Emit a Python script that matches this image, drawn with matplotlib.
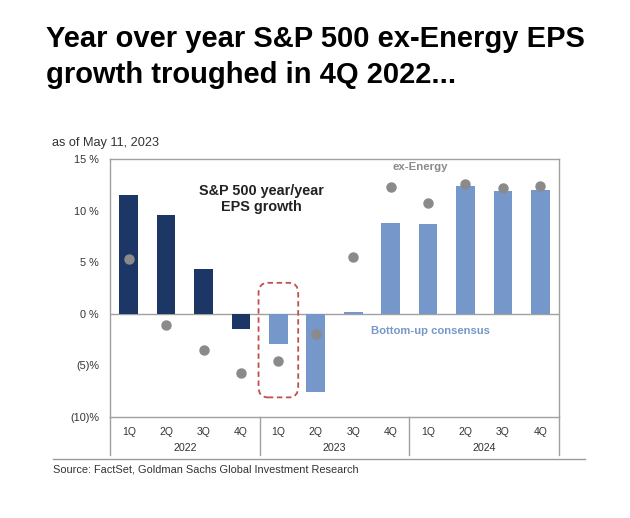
import matplotlib.pyplot as plt
from matplotlib.patches import FancyBboxPatch
import matplotlib.transforms as mtransforms

plt.rcParams['font.family'] = ['Liberation Sans', 'DejaVu Sans']

# data
quarters = ["1Q", "2Q", "3Q", "4Q", "1Q", "2Q", "3Q", "4Q", "1Q", "2Q", "3Q", "4Q"]
years = ["2022", "2023", "2024"]
eps_growth = [11.5, 9.6, 4.3, -1.5, -2.9, -7.6, 0.2, 8.8, 8.7, 12.4, 11.9, 12.0]
ex_energy = [5.3, -1.1, -3.5, -5.7, -4.6, -2.0, 5.5, 12.3, 10.7, 12.6, 12.2, 12.4]
actual_count = 4  # first four quarters are reported, rest consensus

NAVY = "#1c3766"
LIGHT = "#7597c9"
GREY = "#8a8a8a"

fig = plt.figure(figsize=(6.3, 5.18), dpi=100)
ax = fig.add_axes([0.1746, 0.1950, 0.7127, 0.4981])

x = list(range(len(quarters)))
colors = [NAVY if i < actual_count else LIGHT for i in x]
ax.bar(x, eps_growth, width=0.5, color=colors, zorder=2)
ax.plot(x, ex_energy, 'o', color=GREY, ms=6.5, zorder=3)

ax.set_xlim(-0.5, len(quarters) - 0.5)
ax.set_ylim(-10, 15)
ax.axhline(0, color="#a0a0a0", lw=1, zorder=1)

ax.set_yticks([15, 10, 5, 0, -5, -10])
ax.set_yticklabels(["15 %", "10 %", "5 %", "0 %", "(5)%", "(10)%"], fontsize=7.8, color="#333333")
ax.tick_params(axis='y', length=0, pad=8)
ax.set_xticks([])

for s in ax.spines.values():
    s.set_color("#a0a0a0")
    s.set_linewidth(1)

# quarter and year labels below the plot
trans = mtransforms.blended_transform_factory(ax.transData, ax.transAxes)
for i, q in enumerate(quarters):
    ax.text(i, -0.058, q, transform=trans, ha='center', va='center', fontsize=7.5, color="#333333")
for k, yr in enumerate(years):
    ax.text(4 * k + 1.5, -0.12, yr, transform=trans, ha='center', va='center', fontsize=7.7, color="#333333")
for xs in [-0.5, 3.5, 7.5, 11.5]:
    ax.plot([xs, xs], [0, -0.147], transform=trans, color="#a0a0a0", lw=1, clip_on=False)

# dashed box around 1Q 2023
box = FancyBboxPatch((3.47, -8.1), 1.06, 11.1, boxstyle="round,pad=0,rounding_size=0.25",
                     mutation_aspect=4, fill=False, ec="#c0504d", ls=(0, (3, 2)), lw=1.3, zorder=4)
ax.add_patch(box)

ax.text(3.55, 11.1, "S&P 500 year/year\nEPS growth", ha='center', va='center',
        fontsize=10.4, fontweight='bold', color="#222222", linespacing=1.15)
ax.text(7.8, 14.2, "ex-Energy", ha='center', va='center', fontsize=8.2, fontweight='bold', color="#8a8a8a")
ax.text(8.07, -1.7, "Bottom-up consensus", ha='center', va='center', fontsize=8.1, fontweight='bold', color=LIGHT)

fig.text(52 / 630, 1 - 143 / 518, "as of May 11, 2023", fontsize=9.2, color="#333333", va='center')

fig.text(46 / 630, 1 - 47 / 518, "Year over year S&P 500 ex-Energy EPS",
         fontsize=21, fontweight='bold', color="black", va='baseline')
fig.text(46 / 630, 1 - 83 / 518, "growth troughed in 4Q 2022...",
         fontsize=21, fontweight='bold', color="black", va='baseline')

fig.add_artist(plt.Line2D([53 / 630, 585 / 630], [1 - 459 / 518] * 2, color="#9a9a9a", lw=1))
fig.text(53 / 630, 1 - 470 / 518, "Source: FactSet, Goldman Sachs Global Investment Research",
         fontsize=7.9, color="#333333", va='center')

fig.savefig("out.png", dpi=100)
